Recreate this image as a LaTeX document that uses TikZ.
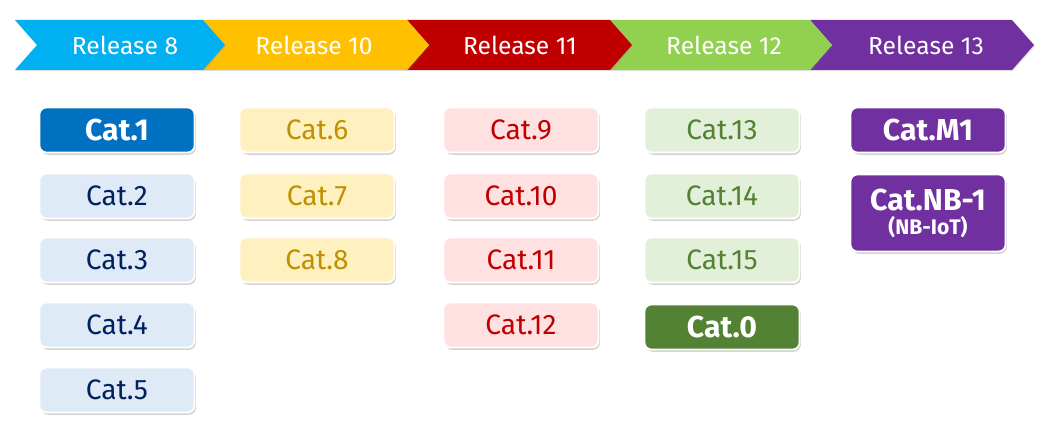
\documentclass[tikz,border=0pt]{standalone}
\usepackage{fontspec}
\setmainfont{Fira Sans}
\usetikzlibrary{shadows}
\definecolor{relblue}{HTML}{00B0F0}
\definecolor{relyellow}{HTML}{FFC000}
\definecolor{relred}{HTML}{C00000}
\definecolor{relgreen}{HTML}{92D050}
\definecolor{relpurple}{HTML}{7030A0}
\definecolor{catblue}{HTML}{0070C0}
\definecolor{paleblue}{HTML}{DEEBF7}
\definecolor{navy}{HTML}{002060}
\definecolor{paleyellow}{HTML}{FFF0C0}
\definecolor{ochre}{HTML}{BF9000}
\definecolor{palered}{HTML}{FFE1E1}
\definecolor{palegreen}{HTML}{E2F0D9}
\definecolor{darkgreen}{HTML}{548235}
\begin{document}
\begin{tikzpicture}[x=0.025cm, y=-0.025cm,
    chevron/.style={drop shadow={shadow xshift=0.6pt, shadow yshift=-0.8pt, opacity=0.25}},
    reltext/.style={text=white, font=\fontsize{17.5}{20}\selectfont},
    catbox/.style={rounded corners=5pt, draw=white, line width=1.2pt,
        minimum width=3.875cm, minimum height=1.125cm, inner sep=0pt,
        font=\fontsize{20}{22}\selectfont,
        drop shadow={shadow xshift=1pt, shadow yshift=-1.6pt, opacity=0.35}},
    keycat/.style={catbox, font=\bfseries\fontsize{21.5}{22}\selectfont, text=white},
    r8cat/.style={catbox, fill=paleblue, text=navy},
    r10cat/.style={catbox, fill=paleyellow, text=ochre},
    r11cat/.style={catbox, fill=palered, text=relred},
    r12cat/.style={catbox, fill=palegreen, text=darkgreen}]
    \useasboundingbox (0,0) rectangle (1052,440);
    % release chevrons
    \fill[chevron, relpurple] (810,20) -- (1012,20) -- (1034,45) -- (1012,70) -- (810,70) -- (832,45) -- cycle;
    \fill[chevron, relgreen] (610,20) -- (810,20) -- (832,45) -- (810,70) -- (610,70) -- (632,45) -- cycle;
    \fill[chevron, relred] (407,20) -- (610,20) -- (632,45) -- (610,70) -- (407,70) -- (429,45) -- cycle;
    \fill[chevron, relyellow] (203,20) -- (407,20) -- (429,45) -- (407,70) -- (203,70) -- (225,45) -- cycle;
    \fill[chevron, relblue] (15,20) -- (203,20) -- (225,45) -- (203,70) -- (15,70) -- (37,45) -- cycle;
    \node[reltext] (r8) at (125,45) {Release 8};
    \node[reltext] (r10) at (314,45) {Release 10};
    \node[reltext] (r11) at (520,45) {Release 11};
    \node[reltext] (r12) at (724,45) {Release 12};
    \node[reltext] (r13) at (926,45) {Release 13};
    % categories
    \node[keycat, fill=catblue] (c1) at (117,130) {Cat.1};
    \node[r8cat] (c2) at (117,196) {Cat.2};
    \node[r8cat] (c3) at (117,260) {Cat.3};
    \node[r8cat] (c4) at (117,325) {Cat.4};
    \node[r8cat] (c5) at (117,390) {Cat.5};
    \node[r10cat] (c6) at (317,130) {Cat.6};
    \node[r10cat] (c7) at (317,196) {Cat.7};
    \node[r10cat] (c8) at (317,260) {Cat.8};
    \node[r11cat] (c9) at (521,130) {Cat.9};
    \node[r11cat] (c10) at (521,196) {Cat.10};
    \node[r11cat] (c11) at (521,260) {Cat.11};
    \node[r11cat] (c12) at (521,325) {Cat.12};
    \node[r12cat] (c13) at (722,130) {Cat.13};
    \node[r12cat] (c14) at (722,196) {Cat.14};
    \node[r12cat] (c15) at (722,260) {Cat.15};
    \node[keycat, fill=darkgreen] (c0) at (722,327) {Cat.0};
    \node[keycat, fill=relpurple] (cm1) at (928,130) {Cat.M1};
    \node[keycat, fill=relpurple, minimum height=1.925cm, align=center] (cnb) at (928,213)
        {Cat.NB-1\\[-5pt]{\fontsize{15}{16}\selectfont (NB-IoT)}};
\end{tikzpicture}
\end{document}
